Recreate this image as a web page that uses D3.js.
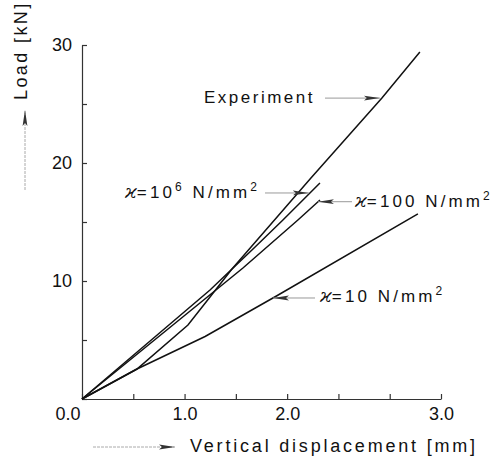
<!DOCTYPE html>
<html>
<head>
<meta charset="utf-8">
<script src="https://cdn.jsdelivr.net/npm/d3@7"></script>
<style>
  body { margin: 0; background: #fff; }
  svg { display: block; font-family: "Liberation Sans", Arial, sans-serif; }
  .axis path, .axis line { stroke: #333; stroke-width: 1.2; }
  .axis text { font-size: 18px; fill: #111; }
  .curve { fill: none; stroke: #111; stroke-width: 1.5; }
  .note { font-size: 17px; fill: #111; letter-spacing: 2.5px; }
  .knote { letter-spacing: 3.1px; }
  .kappa { font-family: "DejaVu Serif", serif; font-style: italic; font-size: 19px; letter-spacing: 0; }
  .title { font-size: 18px; fill: #111; }
</style>
</head>
<body>
<svg width="495" height="457"></svg>
<script>
// displacement [mm] / load [kN]
const experimentDisp = [0, 0.536, 1.033, 1.248, 1.462, 2.232, 2.924, 3.294];
const experimentLoad = [0, 2.54, 6.27, 8.64, 11.02, 18.73, 25.51, 29.41];

const k1e6Disp = [0, 1.248, 1.657, 1.959, 2.320];
const k1e6Load = [0, 9.24, 12.63, 15.17, 18.31];

const k100Disp = [0, 1.569, 2.105, 2.320];
const k100Load = [0, 11.10, 15.17, 16.86];

const k10Disp = [0, 0.536, 1.20, 1.90, 3.275];
const k10Load = [0, 2.54, 5.30, 8.75, 15.68];

const xTicks = [0, 0.5, 1, 1.5, 2, 2.5, 3, 3.5];
const xTickLabels = ["0.0", "", "1.0", "", "2.0", "", "", "3.0"];
const yTicks = [0, 5, 10, 15, 20, 25, 30];
const yTickLabels = ["", "", "10", "", "20", "", "30"];

const svg = d3.select("svg");

const x = d3.scaleLinear().domain([0, 3.5]).range([82, 441]);
const y = d3.scaleLinear().domain([0, 30]).range([399, 45]);

const xAxis = d3.axisBottom(x)
  .tickValues(xTicks)
  .tickSize(-5)
  .tickSizeOuter(0)
  .tickPadding(8)
  .tickFormat((d, i) => xTickLabels[i]);

const gx = svg.append("g")
  .attr("class", "axis")
  .attr("transform", "translate(0," + y(0) + ")")
  .call(xAxis);
// the 0.0 label sits left of the origin
gx.selectAll(".tick text")
  .filter(d => d === 0)
  .attr("text-anchor", "end")
  .attr("x", -2);

const yAxis = d3.axisLeft(y)
  .tickValues(yTicks)
  .tickSize(-5)
  .tickSizeOuter(0)
  .tickPadding(10)
  .tickFormat((d, i) => yTickLabels[i]);

svg.append("g")
  .attr("class", "axis")
  .attr("transform", "translate(" + x(0) + ",0)")
  .call(yAxis);

svg.selectAll(".axis").attr("font-size", null).attr("font-family", null);

const line = d3.line()
  .x(d => x(d[0]))
  .y(d => y(d[1]));

const curves = [
  d3.zip(experimentDisp, experimentLoad),
  d3.zip(k1e6Disp, k1e6Load),
  d3.zip(k100Disp, k100Load),
  d3.zip(k10Disp, k10Load)
];

svg.selectAll(".curve")
  .data(curves)
  .enter()
  .append("path")
  .attr("class", "curve")
  .attr("d", line);

// arrow heads
const defs = svg.append("defs");
defs.append("marker")
  .attr("id", "head")
  .attr("viewBox", "0 0 16 6")
  .attr("refX", 16)
  .attr("refY", 3)
  .attr("markerWidth", 16)
  .attr("markerHeight", 6)
  .attr("markerUnits", "userSpaceOnUse")
  .attr("orient", "auto")
  .append("path")
  .attr("d", "M0,0.6 L16,3 L0,5.4 L3,3 Z")
  .attr("fill", "#333");

function arrow(x1, y1, x2, y2) {
  svg.append("line")
    .attr("x1", x1).attr("y1", y1)
    .attr("x2", x2).attr("y2", y2)
    .attr("stroke", "#999")
    .attr("stroke-width", 1)
    .attr("marker-end", "url(#head)");
}

function kappaLabel(x0, y0, parts) {
  const t = svg.append("text").attr("class", "note knote").attr("x", x0).attr("y", y0);
  t.append("tspan").attr("class", "kappa").text("ϰ");
  parts.forEach(p => {
    const s = t.append("tspan").text(p[0]);
    if (p[1]) s.attr("dy", p[1]);
    if (p[2]) s.attr("font-size", p[2]);
  });
}

// curve labels, arrow tips on the curves
arrow(325, y(25.5), x(2.904), y(25.5));
svg.append("text").attr("class", "note")
  .attr("x", 315).attr("y", 103).attr("text-anchor", "end")
  .text("Experiment");

arrow(265, y(17.46), x(2.212), y(17.46));
kappaLabel(125, 198, [["=10", 0], ["6", -7, 12], [" N/mm", 7], ["2", -7, 12]]);

arrow(352, y(16.72), x(2.30), y(16.72));
kappaLabel(355, 207, [["=100 N/mm", 0], ["2", -7, 12]]);

arrow(315, y(8.56), x(1.862), y(8.56));
kappaLabel(320, 302, [["=10 N/mm", 0], ["2", -7, 12]]);

// axis titles with their arrows
svg.append("line")
  .attr("x1", 93).attr("y1", 447).attr("x2", 175).attr("y2", 447)
  .attr("stroke", "#aaa").attr("stroke-width", 1)
  .attr("stroke-dasharray", "3,1")
  .attr("marker-end", "url(#head)");
svg.append("text").attr("class", "title")
  .attr("x", 190).attr("y", 452)
  .attr("letter-spacing", 2.8)
  .text("Vertical displacement [mm]");

svg.append("line")
  .attr("x1", 25).attr("y1", 190).attr("x2", 25).attr("y2", 110)
  .attr("stroke", "#aaa").attr("stroke-width", 1)
  .attr("stroke-dasharray", "3,1")
  .attr("marker-end", "url(#head)");
svg.append("text").attr("class", "title")
  .attr("transform", "translate(27,100) rotate(-90)")
  .attr("letter-spacing", 2.4)
  .text("Load [kN]");
</script>
</body>
</html>
